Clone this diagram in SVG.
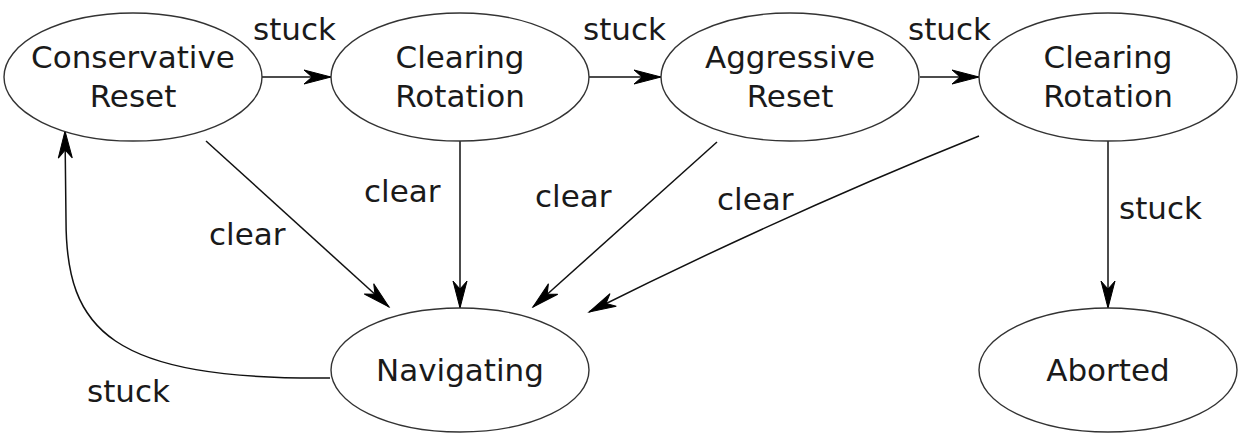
<svg xmlns="http://www.w3.org/2000/svg" width="1239" height="435" viewBox="0 0 1239 435">
<style>
.node ellipse{fill:#fff;stroke:#333;stroke-width:1.4}
text{font-family:"DejaVu Sans","Liberation Sans",sans-serif;font-size:31px;fill:#1a1a1a}
.n{text-anchor:middle}
.e path{fill:none;stroke:#111;stroke-width:1.5;marker-end:url(#ah)}
</style>
<defs>
<marker id="ah" markerUnits="userSpaceOnUse" markerWidth="30" markerHeight="20" viewBox="-28 -8 30 16" refX="0" refY="0" orient="auto">
<path d="M0,0 L-27,-7 L-19,0 L-27,7 Z" fill="#000" stroke="#000" stroke-width="1"/>
</marker>
</defs>
<rect width="1239" height="435" fill="#fff"/>
<g id="edges" class="e">
<path d="M262,77 L331,77"/>
<path d="M589,77 L661,77"/>
<path d="M920,77 L979,77"/>
<path d="M206,141 L389,307"/>
<path d="M460,141 L460,308"/>
<path d="M717,142 L533,307"/>
<path d="M979,136 Q785,214 589,312"/>
<path d="M1108,141 L1108,308"/>
<path d="M330,378 C110,380 66,330 66,220 L65,131"/>
</g>
<g id="edge-labels">
<text x="253" y="40">stuck</text>
<text x="583" y="40">stuck</text>
<text x="908" y="40">stuck</text>
<text x="209" y="245">clear</text>
<text x="364" y="202">clear</text>
<text x="535" y="207">clear</text>
<text x="717" y="210">clear</text>
<text x="1119" y="219">stuck</text>
<text x="87" y="402">stuck</text>
</g>
<g id="n1" class="node"><ellipse cx="133" cy="77" rx="129" ry="64"/><text class="n" x="133" y="68">Conservative</text><text class="n" x="133" y="107">Reset</text></g>
<g id="n2" class="node"><ellipse cx="460" cy="77" rx="129" ry="64"/><text class="n" x="460" y="68">Clearing</text><text class="n" x="460" y="107">Rotation</text></g>
<g id="n3" class="node"><ellipse cx="790" cy="77" rx="129" ry="64"/><text class="n" x="790" y="68">Aggressive</text><text class="n" x="790" y="107">Reset</text></g>
<g id="n4" class="node"><ellipse cx="1108" cy="77" rx="129" ry="64"/><text class="n" x="1108" y="68">Clearing</text><text class="n" x="1108" y="107">Rotation</text></g>
<g id="n5" class="node"><ellipse cx="460" cy="370" rx="129" ry="62"/><text class="n" x="460" y="381">Navigating</text></g>
<g id="n6" class="node"><ellipse cx="1108" cy="370" rx="129" ry="62"/><text class="n" x="1108" y="381">Aborted</text></g>
</svg>
